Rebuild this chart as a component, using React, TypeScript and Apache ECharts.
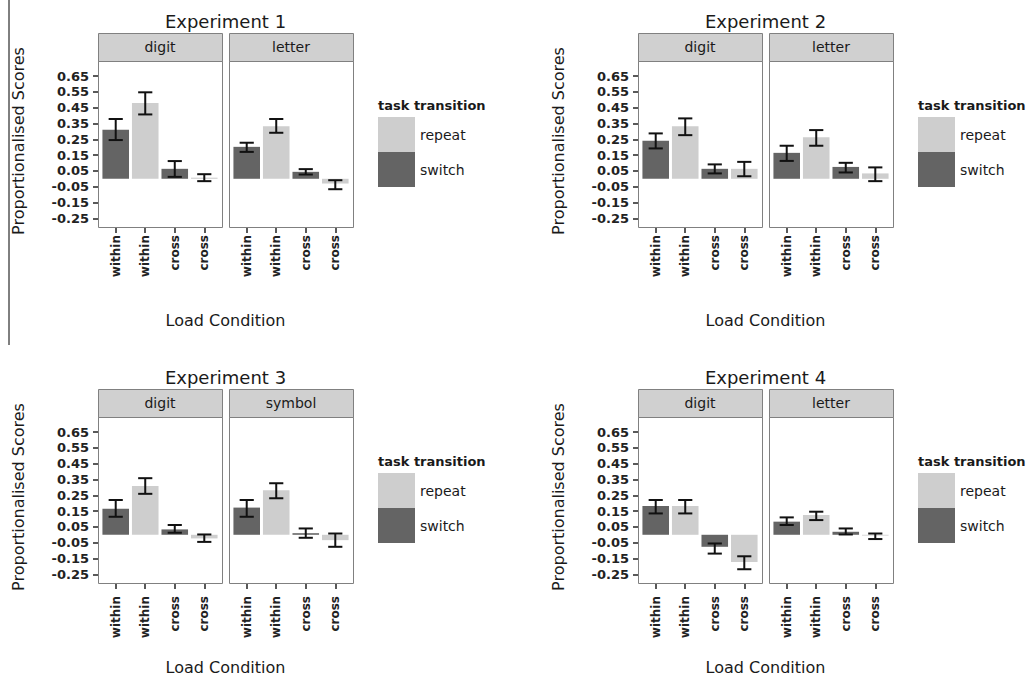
import React, { useEffect, useRef } from "react";
import * as echarts from "echarts";

const experimentTitles = ["Experiment 1", "Experiment 2", "Experiment 3", "Experiment 4"];
const facetNames = [
  ["digit", "letter"],
  ["digit", "letter"],
  ["digit", "symbol"],
  ["digit", "letter"],
];
const conditionLabels = ["within", "within", "cross", "cross"];
const transitions = ["switch", "repeat", "switch", "repeat"];
const legendOrder = ["repeat", "switch"];
const yTickValues = [-0.25, -0.15, -0.05, 0.05, 0.15, 0.25, 0.35, 0.45, 0.55, 0.65];

// [facet][condition]
const exp1Mean = [[0.31, 0.48, 0.063, 0.007], [0.202, 0.333, 0.044, -0.03]];
const exp1Low = [[0.245, 0.407, 0.012, -0.015], [0.17, 0.291, 0.027, -0.066]];
const exp1High = [[0.378, 0.547, 0.112, 0.029], [0.228, 0.378, 0.061, -0.009]];

const exp2Mean = [[0.24, 0.333, 0.063, 0.063], [0.164, 0.262, 0.075, 0.034]];
const exp2Low = [[0.192, 0.276, 0.034, 0.016], [0.113, 0.209, 0.04, -0.015]];
const exp2High = [[0.287, 0.382, 0.091, 0.107], [0.209, 0.308, 0.101, 0.072]];

const exp3Mean = [[0.165, 0.309, 0.034, -0.023], [0.172, 0.282, 0.01, -0.034]];
const exp3Low = [[0.114, 0.259, 0.013, -0.045], [0.114, 0.231, -0.019, -0.076]];
const exp3High = [[0.22, 0.358, 0.062, 0.002], [0.22, 0.326, 0.04, 0.008]];

const exp4Mean = [[0.182, 0.182, -0.076, -0.172], [0.083, 0.125, 0.019, -0.005]];
const exp4Low = [[0.135, 0.135, -0.119, -0.218], [0.062, 0.093, 0.002, -0.027]];
const exp4High = [[0.22, 0.22, -0.055, -0.136], [0.11, 0.146, 0.04, 0.008]];

const means = [exp1Mean, exp2Mean, exp3Mean, exp4Mean];
const lows = [exp1Low, exp2Low, exp3Low, exp4Low];
const highs = [exp1High, exp2High, exp3High, exp4High];

const FONT = "DejaVu Sans";
const TEXT = "#1a1a1a";
const barColors: Record<string, string> = { switch: "#646464", repeat: "#cecece" };

function buildOption() {
  const grid: any[] = [];
  const xAxis: any[] = [];
  const yAxis: any[] = [];
  const series: any[] = [];
  const legend: any[] = [];
  const elements: any[] = [];

  elements.push({
    type: "line",
    shape: { x1: 9, y1: 0, x2: 9, y2: 345 },
    style: { stroke: "#000", lineWidth: 1 },
  });

  for (let e = 0; e < 4; e++) {
    const row = Math.floor(e / 2);
    const ox = (e % 2) * 540;
    const oy = row * 356;
    const xNameY = row === 0 ? 320 : 667;
    const xLabelMargin = row === 0 ? 8 : 13;

    elements.push({
      type: "text",
      x: 225.5 + ox,
      y: 21 + oy,
      style: { text: experimentTitles[e], fontFamily: FONT, fontSize: 18, fill: TEXT, align: "center", verticalAlign: "middle" },
    });
    elements.push({
      type: "text",
      x: 18 + ox,
      y: 141 + oy,
      rotation: Math.PI / 2,
      style: { text: "Proportionalised Scores", fontFamily: FONT, fontSize: 16, fill: TEXT, align: "center", verticalAlign: "middle" },
    });
    elements.push({
      type: "text",
      x: 225.5 + ox,
      y: xNameY,
      style: { text: "Load Condition", fontFamily: FONT, fontSize: 16, fill: TEXT, align: "center", verticalAlign: "middle" },
    });
    elements.push({
      type: "text",
      x: 378 + ox,
      y: 105 + oy,
      style: { text: "task transition", fontFamily: FONT, fontSize: 13, fontWeight: "bold", fill: TEXT, align: "left", verticalAlign: "middle" },
    });

    legend.push({
      left: 378 + ox,
      top: 117 + oy,
      orient: "vertical",
      itemWidth: 37,
      itemHeight: 35,
      itemGap: 0,
      padding: 0,
      icon: "rect",
      selectedMode: false,
      data: legendOrder,
      textStyle: { fontFamily: FONT, fontSize: 14, color: TEXT },
    });

    for (let f = 0; f < 2; f++) {
      const idx = e * 2 + f;
      const pl = 98 + f * 131 + ox;
      const pt = 61 + oy;
      const pw = 124;
      const ph = 166;
      const unit = pw / 4.2;

      elements.push({
        type: "rect",
        shape: { x: pl + 0.5, y: 33.5 + oy, width: pw, height: 28 },
        style: { fill: "#d0d0d0", stroke: "#808080", lineWidth: 1 },
      });
      elements.push({
        type: "text",
        x: pl + pw / 2,
        y: 47 + oy,
        style: { text: facetNames[e][f], fontFamily: FONT, fontSize: 14, fill: TEXT, align: "center", verticalAlign: "middle" },
      });
      elements.push({
        type: "rect",
        z: 100,
        shape: { x: pl + 0.5, y: pt + 0.5, width: pw, height: ph },
        style: { fill: "none", stroke: "#808080", lineWidth: 1 },
      });

      grid.push({ left: pl + unit * 0.1, top: pt, width: unit * 4, height: ph });

      xAxis.push({
        type: "category",
        gridIndex: idx,
        data: conditionLabels.map((c, i) => c + "|" + i),
        axisLine: { show: false, onZero: false },
        axisTick: { show: true, alignWithLabel: true, interval: 0, length: 6, lineStyle: { color: "#222", width: 1.5 } },
        axisLabel: {
          interval: 0,
          rotate: 90,
          margin: xLabelMargin,
          formatter: (v: string) => v.split("|")[0],
          fontFamily: FONT,
          fontSize: 12,
          fontWeight: "bold",
          color: "#222",
        },
        splitLine: { show: false },
      });

      yAxis.push({
        type: "value",
        gridIndex: idx,
        min: -0.305,
        max: 0.745,
        offset: unit * 0.1,
        splitLine: { show: false },
        axisLine: { show: false, onZero: false },
        axisTick: { show: f === 0, length: 5, customValues: yTickValues, lineStyle: { color: "#222", width: 1.5 } },
        axisLabel: {
          show: f === 0,
          customValues: yTickValues,
          formatter: (v: number) => v.toFixed(2),
          margin: 9,
          fontFamily: FONT,
          fontSize: 13,
          fontWeight: "bold",
          color: "#222",
        },
      });

      const m = means[e][f];
      const lo = lows[e][f];
      const hi = highs[e][f];

      ["switch", "repeat"].forEach((t) => {
        series.push({
          type: "bar",
          name: t,
          xAxisIndex: idx,
          yAxisIndex: idx,
          barWidth: "90%",
          barGap: "-100%",
          itemStyle: { color: barColors[t] },
          data: m.map((v, i) => (transitions[i] === t ? v : "-")),
        });
      });

      series.push({
        type: "custom",
        name: "error",
        xAxisIndex: idx,
        yAxisIndex: idx,
        z: 10,
        encode: { x: 0, y: [1, 2] },
        data: m.map((_, i) => [i, lo[i], hi[i]]),
        renderItem: (params: any, api: any) => {
          const x = api.value(0);
          const pLo = api.coord([x, api.value(1)]);
          const pHi = api.coord([x, api.value(2)]);
          const half = api.size([1, 0])[0] * 0.24;
          const style = { stroke: "#111", lineWidth: 2 };
          return {
            type: "group",
            children: [
              { type: "line", shape: { x1: pLo[0], y1: pLo[1], x2: pHi[0], y2: pHi[1] }, style },
              { type: "line", shape: { x1: pHi[0] - half, y1: pHi[1], x2: pHi[0] + half, y2: pHi[1] }, style },
              { type: "line", shape: { x1: pLo[0] - half, y1: pLo[1], x2: pLo[0] + half, y2: pLo[1] }, style },
            ],
          };
        },
      });
    }
  }

  return {
    animation: false,
    backgroundColor: "#ffffff",
    textStyle: { fontFamily: FONT },
    grid,
    xAxis,
    yAxis,
    legend,
    series,
    graphic: { elements },
  };
}

export default function App() {
  const ref = useRef<HTMLDivElement>(null);
  useEffect(() => {
    if (!ref.current) return;
    const chart = echarts.init(ref.current, undefined, { renderer: "svg" });
    chart.setOption(buildOption() as any);
    return () => chart.dispose();
  }, []);
  return (
    <div
      ref={ref}
      style={{ position: "absolute", left: 0, top: 0, width: 1033, height: 682, background: "#fff" }}
    />
  );
}
